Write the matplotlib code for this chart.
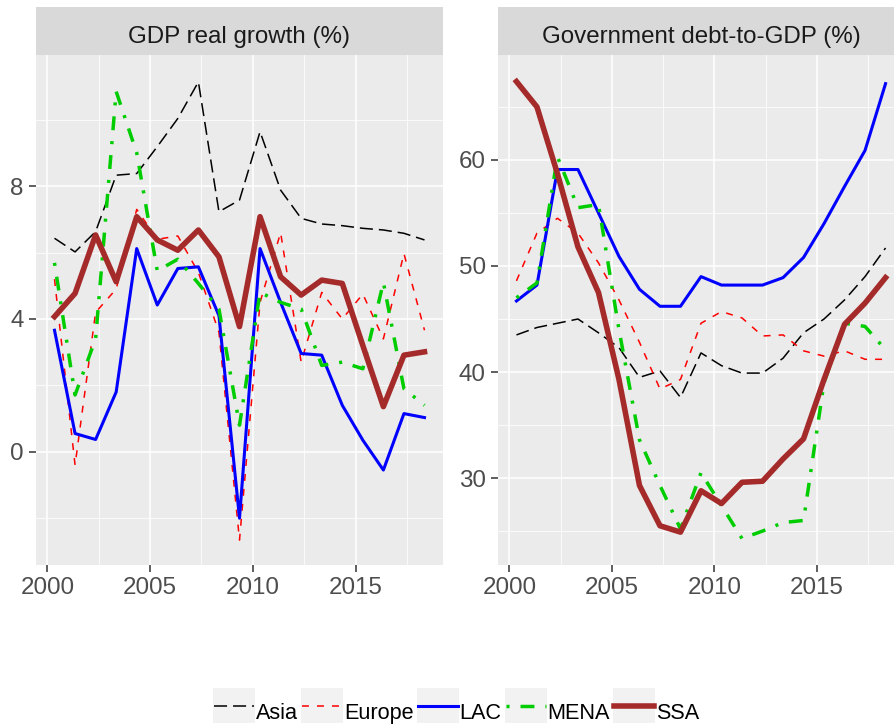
import numpy as np
import matplotlib
matplotlib.use('Agg')
import matplotlib.pyplot as plt
from matplotlib.patches import Rectangle
from matplotlib.lines import Line2D

plt.rcParams['font.family'] = ['Liberation Sans', 'DejaVu Sans']
plt.rcParams['lines.scale_dashes'] = False

# annual observations, dated a few months into each year
years = np.arange(2000, 2019)
t = years + 0.35

regions = ['Asia', 'Europe', 'LAC', 'MENA', 'SSA']

# GDP real growth (%)
gdp_asia = [6.43, 6.02, 6.63, 8.33, 8.38, 9.19, 10.04, 11.14, 7.23, 7.58,
            9.64, 7.88, 7.03, 6.86, 6.81, 6.73, 6.68, 6.58, 6.38]
gdp_europe = [5.2, -0.4, 4.2, 4.9, 7.3, 6.4, 6.5, 5.4, 3.6, -2.66,
              4.5, 6.6, 2.7, 4.8, 4.0, 4.75, 3.4, 5.97, 3.66]
gdp_lac = [3.66, 0.55, 0.37, 1.8, 6.12, 4.42, 5.52, 5.57, 4.1, -2.0,
           6.12, 4.5, 2.96, 2.91, 1.4, 0.35, -0.55, 1.15, 1.03]
gdp_mena = [5.69, 1.71, 3.4, 10.85, 9.0, 5.45, 5.8, 5.07, 4.3, 0.8,
            4.8, 4.5, 4.3, 2.6, 2.7, 2.5, 5.1, 1.9, 1.4]
gdp_ssa = [4.07, 4.77, 6.53, 5.12, 7.08, 6.38, 6.07, 6.68, 5.87, 3.77,
           7.08, 5.27, 4.72, 5.17, 5.07, 3.2, 1.36, 2.91, 3.01]

# Government debt-to-GDP (%)
debt_asia = [43.5, 44.2, 44.6, 45.0, 43.7, 42.3, 39.5, 40.1, 37.6, 41.8,
             40.6, 39.9, 39.9, 41.3, 43.7, 45.0, 46.8, 49.0, 51.7]
debt_europe = [48.6, 53.1, 54.5, 53.1, 50.3, 46.8, 42.8, 38.4, 39.3, 44.6,
               45.7, 45.1, 43.4, 43.5, 42.0, 41.5, 42.0, 41.2, 41.2]
debt_lac = [46.7, 48.2, 59.1, 59.1, 55.0, 50.9, 47.8, 46.2, 46.2, 49.0,
            48.2, 48.2, 48.2, 48.9, 50.8, 54.0, 57.5, 60.9, 67.2]
debt_mena = [47.0, 48.4, 60.3, 55.5, 55.8, 44.0, 33.6, 29.3, 25.2, 30.5,
             27.4, 24.3, 25.0, 25.8, 26.0, 39.0, 44.6, 44.3, 42.1]
debt_ssa = [67.4, 65.0, 58.7, 51.8, 47.5, 39.3, 29.3, 25.5, 24.9, 28.8,
            27.6, 29.6, 29.7, 31.8, 33.7, 39.3, 44.5, 46.5, 48.9]

gdp = dict(zip(regions, [gdp_asia, gdp_europe, gdp_lac, gdp_mena, gdp_ssa]))
debt = dict(zip(regions, [debt_asia, debt_europe, debt_lac, debt_mena, debt_ssa]))

colors = {'Asia': 'black', 'Europe': 'red', 'LAC': 'blue',
          'MENA': '#00CD00', 'SSA': '#A52A2A'}
widths = {'Asia': 1.1, 'Europe': 1.1, 'LAC': 2.2, 'MENA': 2.5, 'SSA': 4.0}
styles = {'Asia': (0, (9.4, 4.3)), 'Europe': (0, (5.0, 5.8)), 'LAC': '-',
          'MENA': (0, (2.2, 7.9, 10.0, 7.9)), 'SSA': '-'}

W, H = 894, 725
fig = plt.figure(figsize=(W / 100, H / 100), dpi=100)


def px_axes(x0, y0, x1, y1):
    return fig.add_axes([x0 / W, 1 - y1 / H, (x1 - x0) / W, (y1 - y0) / H])


def style_panel(ax, ylim, yticks, yminor):
    ax.set_facecolor('#EBEBEB')
    for s in ax.spines.values():
        s.set_visible(False)
    ax.set_xlim(1999.45, 2019.25)
    ax.set_ylim(*ylim)
    ax.set_xticks([2000, 2005, 2010, 2015])
    ax.set_xticks([2002.5, 2007.5, 2012.5, 2017.5], minor=True)
    ax.set_yticks(yticks)
    ax.set_yticks(yminor, minor=True)
    ax.grid(which='major', color='white', lw=1.1)
    ax.grid(which='minor', color='white', lw=0.55)
    ax.set_axisbelow(True)
    ax.tick_params(which='major', length=4.8, width=1.1, color='#333333',
                   labelcolor='#4D4D4D', labelsize=17.4, pad=4)
    ax.tick_params(which='minor', length=0)


def strip(x0, x1, title):
    s = px_axes(x0, 7, x1, 55)
    s.set_facecolor('#D9D9D9')
    for sp in s.spines.values():
        sp.set_visible(False)
    s.set_xticks([])
    s.set_yticks([])
    s.text(0.5, 0.25, title, ha='center', va='baseline', fontsize=17.4,
           color='#1A1A1A', transform=s.transAxes)


ax1 = px_axes(36, 55, 443, 565)
ax2 = px_axes(498, 55, 904, 565)
style_panel(ax1, (-3.41, 11.95), [0, 4, 8], [-2, 2, 6, 10])
style_panel(ax2, (21.8, 69.9), [30, 40, 50, 60], [25, 35, 45, 55, 65])
strip(36, 443, 'GDP real growth (%)')
strip(498, 904, 'Government debt-to-GDP (%)')

for r in regions:
    ax1.plot(t, gdp[r], color=colors[r], lw=widths[r], linestyle=styles[r])
    ax2.plot(t, debt[r], color=colors[r], lw=widths[r], linestyle=styles[r])

# legend along the bottom: grey key boxes followed by labels
leg = fig.add_axes([0, 0, 1, 1])
leg.set_xlim(0, W)
leg.set_ylim(H, 0)
leg.axis('off')
renderer = fig.canvas.get_renderer()
x = 213
yc = 706
for r in regions:
    leg.add_patch(Rectangle((x, 688), 42, 35, facecolor='#F2F2F2', edgecolor='none'))
    leg.add_line(Line2D([x + 1, x + 41], [yc, yc], color=colors[r], lw=widths[r],
                        linestyle=styles[r]))
    txt = leg.text(x + 43, 719, r, ha='left', va='baseline', fontsize=15.6,
                   color='black')
    bb = txt.get_window_extent(renderer=renderer)
    x = x + 43 + bb.width + 3

fig.savefig('out.png', dpi=100)
